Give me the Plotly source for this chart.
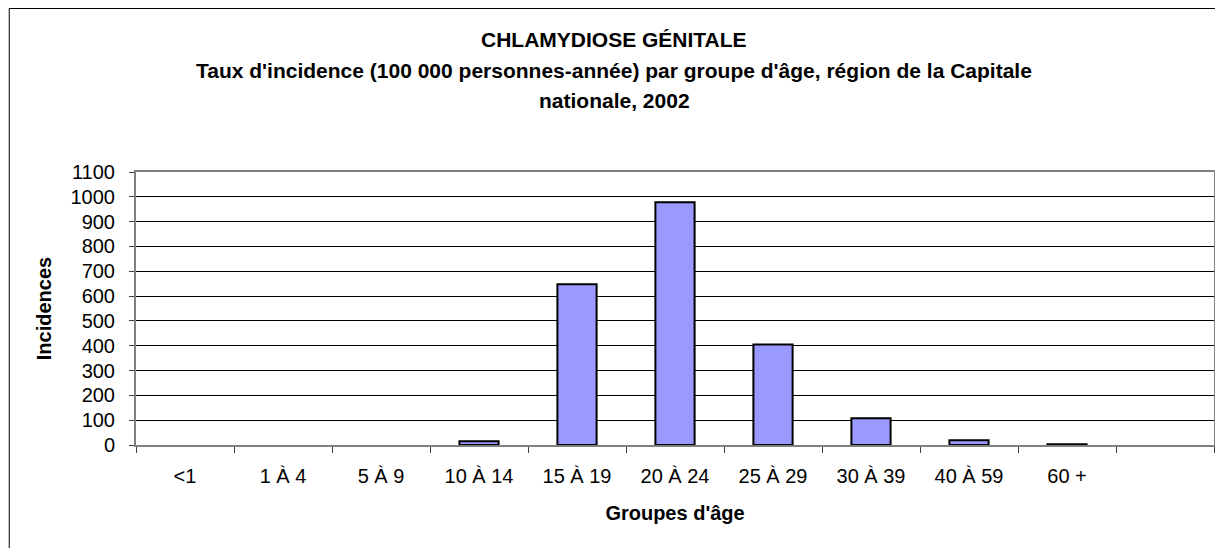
import plotly.graph_objects as go

# groupes d'âge (la dernière catégorie est vide, comme dans l'original)
groupes = ["<1", "1 À 4", "5 À 9", "10 À 14", "15 À 19", "20 À 24",
           "25 À 29", "30 À 39", "40 À 59", "60 +", " "]
incidences = [0, 0, 0, 15, 648, 978, 405, 108, 19, 3, None]
yticks = list(range(0, 1101, 100))

titre = ["CHLAMYDIOSE GÉNITALE",
         "Taux d'incidence (100 000 personnes-année) par groupe d'âge, région de la Capitale",
         "nationale, 2002"]

FONT = "Arial, Liberation Sans, sans-serif"

# la page html ajoute une marge de 8 px : on la compense
OFF = 8
W, H = 1223 - OFF, 548 - OFF
L, R, T, B = 136 - OFF, 7, 172 - OFF, 103

contour = [0 if v == 0 else 2 for v in incidences]

fig = go.Figure(go.Bar(
    x=groupes, y=incidences,
    marker=dict(color="#9999FF", line=dict(color="black", width=contour)),
))

fig.update_layout(
    width=W, height=H,
    margin=dict(l=L, r=R, t=T, b=B),
    paper_bgcolor="white", plot_bgcolor="white",
    font=dict(family=FONT, size=20, color="black"),
    bargap=0.6,
    showlegend=False,
)

fig.update_xaxes(
    type="category", categoryorder="array", categoryarray=groupes,
    showgrid=False, showline=True, linecolor="#808080", linewidth=2, mirror=True,
    ticks="outside", ticklen=6, tickcolor="#404040", tickson="boundaries",
    ticklabelstandoff=12,
    tickfont=dict(size=20),
    title=dict(text="<b>Groupes d'âge</b>", font=dict(size=20), standoff=20),
)
fig.update_yaxes(
    range=[0, 1100], tickvals=yticks, ticktext=[str(v) for v in yticks],
    showgrid=True, gridcolor="black", gridwidth=1, zeroline=False,
    showline=True, linecolor="#808080", linewidth=2, mirror=True,
    ticks="outside", ticklen=5, tickcolor="#404040",
    ticklabelstandoff=10,
    tickfont=dict(size=20),
    title=dict(text="<b>Incidences</b>", font=dict(size=20), standoff=14),
)

# titre sur trois lignes
ph = H - T - B
pw = W - L - R
ligne_y = [40 - OFF, 70 - OFF, 100 - OFF]
for txt, yy in zip(titre, ligne_y):
    fig.add_annotation(
        text="<b>%s</b>" % txt, xref="paper", yref="paper",
        x=(615 - OFF - L) / pw, y=(H - B - yy) / ph,
        xanchor="center", yanchor="middle", showarrow=False,
        font=dict(size=21, family=FONT),
    )

# cadre du graphique (le bas sort de l'image)
fig.add_shape(
    type="rect", xref="paper", yref="paper",
    x0=(9 - OFF - L) / pw, x1=(1221 - OFF - L) / pw,
    y0=(H - B - (H + 20)) / ph, y1=(H - B - 0.5) / ph,
    line=dict(color="black", width=1), layer="below",
)

fig.write_html("out.html")
